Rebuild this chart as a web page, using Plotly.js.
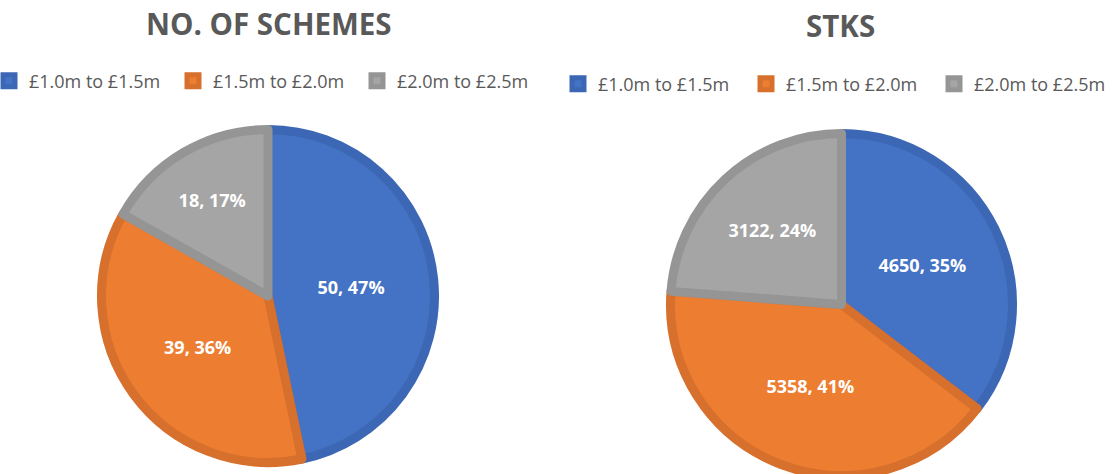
<!DOCTYPE html>
<html>
<head>
<meta charset="utf-8">
<script src="https://cdn.plot.ly/plotly-3.0.1.min.js"></script>
<style>
html, body { margin: 0; padding: 0; overflow: hidden; background: #fff; }
#chart { width: 1119px; height: 482px; }
</style>
</head>
<body>
<div id="chart"></div>
<script>
// Data
const categories = ['£1.0m to £1.5m', '£1.5m to £2.0m', '£2.0m to £2.5m'];
const schemesValues = [50, 39, 18];
const stksValues = [4650, 5358, 3122];
const chartTitles = ['NO. OF SCHEMES', 'STKS'];

// Styles
const fillColors = ['#4472C4', '#ED7D31', '#A5A5A5'];
const borderColors = ['#3C67B4', '#D6702C', '#959595'];
const W = 1119, H = 482;
const textFont = 'Open Sans, Noto Sans, sans-serif';

function pieTrace(values, labels, domain, legendId) {
  return {
    type: 'pie',
    labels: labels,
    values: values,
    sort: false,
    direction: 'clockwise',
    rotation: 0,
    domain: domain,
    legend: legendId,
    marker: { colors: fillColors, line: { color: borderColors, width: 9 } },
    texttemplate: '%{value}, %{percent:.0%}',
    textposition: 'inside',
    insidetextorientation: 'horizontal',
    textfont: { family: textFont, size: 18, color: '#ffffff', weight: 'bold' },
    hoverinfo: 'label+value+percent'
  };
}

const px = v => v / W;
const py = v => 1 - v / H;

// the second pie gets its own legend; an invisible zero-width space keeps its labels distinct
const stksLabels = categories.map(c => c + '\u200b');

const data = [
  pieTrace(schemesValues, categories, { x: [px(101.5), px(434.5)], y: [py(462.5), py(129.5)] }, 'legend'),
  pieTrace(stksValues, stksLabels, { x: [px(670.5), px(1012.5)], y: [py(475.5), py(133.5)] }, 'legend2')
];

const legendBase = {
  orientation: 'h',
  xanchor: 'left',
  yanchor: 'middle',
  font: { family: textFont, size: 18, color: '#595959' },
  bgcolor: 'rgba(0,0,0,0)',
  traceorder: 'normal',
  itemclick: false,
  itemdoubleclick: false
};

const layout = {
  width: W,
  height: H,
  margin: { l: 0, r: 0, t: 0, b: 0, autoexpand: false },
  paper_bgcolor: '#ffffff',
  plot_bgcolor: '#ffffff',
  showlegend: true,
  legend: Object.assign({}, legendBase, { x: px(-11), y: py(81), entrywidth: 139 }),
  legend2: Object.assign({}, legendBase, { x: px(558), y: py(84), entrywidth: 143 }),
  annotations: [
    { text: chartTitles[0], x: px(268.5), y: py(23), xref: 'paper', yref: 'paper',
      xanchor: 'center', yanchor: 'middle', showarrow: false,
      font: { family: textFont, size: 29.5, color: '#595959', weight: 'bold' } },
    { text: chartTitles[1], x: px(840.5), y: py(25.5), xref: 'paper', yref: 'paper',
      xanchor: 'center', yanchor: 'middle', showarrow: false,
      font: { family: textFont, size: 29.5, color: '#595959', weight: 'bold' } }
  ]
};

Plotly.newPlot('chart', data, layout, { displayModeBar: false, staticPlot: true });
</script>
</body>
</html>
